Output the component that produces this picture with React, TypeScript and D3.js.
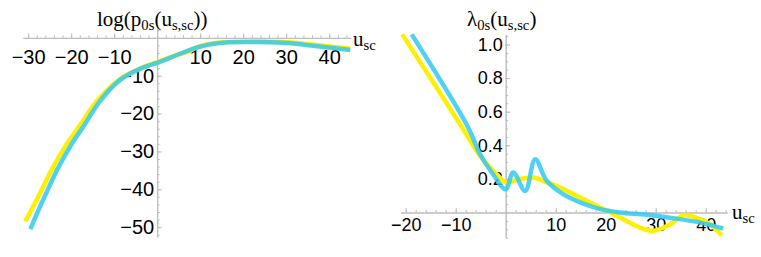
import React, { useEffect, useRef } from 'react';
import * as d3 from 'd3';

// left panel: log(p0s(u)) vs u_sc
const leftYellow: [number, number][] = [
  [-30.7, -48.5], [-28.6, -44.0], [-26.8, -40.0], [-24.8, -35.4], [-22.6, -31.0],
  [-20.4, -27.0], [-18.2, -23.5], [-14.0, -16.7], [-8.8, -11.0], [-4.0, -8.1],
  [0, -6.4], [5, -4.4], [7.5, -3.5], [9.5, -2.4], [14, -1.3], [21.6, -1.0],
  [29.3, -1.1], [37.2, -1.9], [44.9, -2.9]
];
const leftBlue: [number, number][] = [
  [-29.5, -50.5], [-27.6, -45.5], [-25.6, -40.5], [-23.5, -35.4], [-21.4, -31.0],
  [-19.3, -27.0], [-17.2, -23.5], [-13.3, -16.7], [-8.6, -11.1], [-4.0, -8.2],
  [0, -6.6], [5.3, -4.2], [9.3, -2.5], [14, -1.4], [21.6, -1.1], [29.3, -1.3],
  [37.2, -2.2], [44.9, -3.2]
];
const leftXTicks = [-30, -20, -10, 10, 20, 30, 40];
const leftYTicks = [-10, -20, -30, -40, -50];

// right panel: lambda0s(u) vs u_sc
const rightYellow: [number, number][] = [
  [-20.7, 1.06], [-8.7, 0.506], [-5.1, 0.335], [-1.8, 0.228], [0, 0.18], [2.9, 0.2],
  [5.5, 0.208], [8.2, 0.18], [10.9, 0.149], [14.9, 0.089], [18.9, 0.03], [22.9, -0.03],
  [26.9, -0.09], [29.5, -0.109], [32.9, -0.07], [35.5, -0.018], [38.9, -0.04],
  [40.9, -0.07], [43.2, -0.137]
];
const rightBlue: [number, number][] = [
  [-18.8, 1.06], [-7.5, 0.506], [-5.1, 0.345], [-2.5, 0.226], [0, 0.139], [1.5, 0.238],
  [3.9, 0.129], [5.9, 0.317], [8.2, 0.189], [11.5, 0.109], [14.9, 0.06], [18.9, 0.02],
  [22.9, 0.0], [28.2, -0.014], [33.5, -0.034], [38.9, -0.06], [43.5, -0.095]
];
const rightXTicks = [-20, -10, 10, 20, 30, 40];
const rightYTicks = [0.2, 0.4, 0.6, 0.8, 1.0];

const YELLOW = '#fff000';
const BLUE = '#33c8f4';
const AXIS = '#bdbdbd';

function drawTitle(g, x, y, parts, size) {
  const t = g.append('text')
    .attr('x', x).attr('y', y)
    .attr('font-family', '"Liberation Serif", "Times New Roman", serif')
    .attr('font-size', size);
  parts.forEach(([s, sub]) => {
    t.append('tspan')
      .attr('font-size', sub ? size * 0.7 : size)
      .attr('baseline-shift', sub ? '-25%' : null)
      .text(s);
  });
}

function panel(svg, o) {
  const x = d3.scaleLinear().domain(o.xDom).range(o.xRange);
  const y = d3.scaleLinear().domain(o.yDom).range(o.yRange);
  const g = svg.append('g');

  // minor ticks
  g.append('g').attr('transform', `translate(0,${y(0)})`)
    .call(d3.axisBottom(x).tickValues(o.xMinor).tickSizeInner(-2.5).tickSizeOuter(0).tickFormat(() => ''));
  g.append('g').attr('transform', `translate(${x(0)},0)`)
    .call(d3.axisLeft(y).tickValues(o.yMinor).tickSizeInner(-2.5).tickSizeOuter(0).tickFormat(() => ''));

  const xa = g.append('g').attr('transform', `translate(0,${y(0)})`)
    .call(d3.axisBottom(x).tickValues(o.xTicks).tickSizeInner(-4.5).tickSizeOuter(0).tickPadding(o.xPad));
  const ya = g.append('g').attr('transform', `translate(${x(0)},0)`)
    .call(d3.axisLeft(y).tickValues(o.yTicks).tickSizeInner(-4.5).tickSizeOuter(0).tickPadding(o.yPad)
      .tickFormat(o.yFmt));

  g.selectAll('.domain, line').attr('stroke', AXIS).attr('stroke-width', 1);
  [xa, ya].forEach(a => a.selectAll('text')
    .attr('fill', '#000')
    .attr('font-family', '"Liberation Sans", Arial, sans-serif')
    .attr('font-size', o.fs));

  const line = d3.line().x(d => x(d[0])).y(d => y(d[1])).curve(d3.curveCatmullRom.alpha(0.5));
  g.append('path').datum(o.yellow).attr('d', line)
    .attr('fill', 'none').attr('stroke', YELLOW).attr('stroke-width', 4.5);
  g.append('path').datum(o.blue).attr('d', line)
    .attr('fill', 'none').attr('stroke', BLUE).attr('stroke-width', 4.5).attr('stroke-opacity', 0.85);

  drawTitle(g, o.titlePos[0], o.titlePos[1], o.title, 21);
  drawTitle(g, o.uPos[0], o.uPos[1], [['u', false], ['sc', true]], 21);
}

export default function App() {
  const ref = useRef(null);
  useEffect(() => {
    const svg = d3.select(ref.current);
    svg.selectAll('*').remove();
    panel(svg, {
      xDom: [-31.2, 45], xRange: [23, 350.7],
      yDom: [2.6, -52.6], yRange: [28, 237],
      xTicks: leftXTicks, yTicks: leftYTicks,
      xMinor: d3.range(-30, 46, 2), yMinor: d3.range(2, -53, -2),
      xPad: 12, yPad: 3, fs: 20, yFmt: d3.format('d'),
      yellow: leftYellow, blue: leftBlue,
      title: [['log(p', false], ['0s', true], ['(u', false], ['s,sc', true], ['))', false]],
      titlePos: [97, 26], uPos: [353, 46]
    });
    panel(svg, {
      xDom: [-21, 44.3], xRange: [400.7, 727.2],
      yDom: [1.06, -0.15], yRange: [34.4, 237.7],
      xTicks: rightXTicks, yTicks: rightYTicks,
      xMinor: d3.range(-20, 45, 2), yMinor: d3.range(-0.15, 1.06, 0.05),
      xPad: 6, yPad: 3, fs: 18, yFmt: d3.format('.1f'),
      yellow: rightYellow, blue: rightBlue,
      title: [['λ', false], ['0s', true], ['(u', false], ['s,sc', true], [')', false]],
      titlePos: [467, 26], uPos: [732, 219]
    });
  }, []);
  return (
    <svg ref={ref} width={761} height={257}
      style={{ position: 'absolute', left: 0, top: 0, background: '#fff' }} />
  );
}
